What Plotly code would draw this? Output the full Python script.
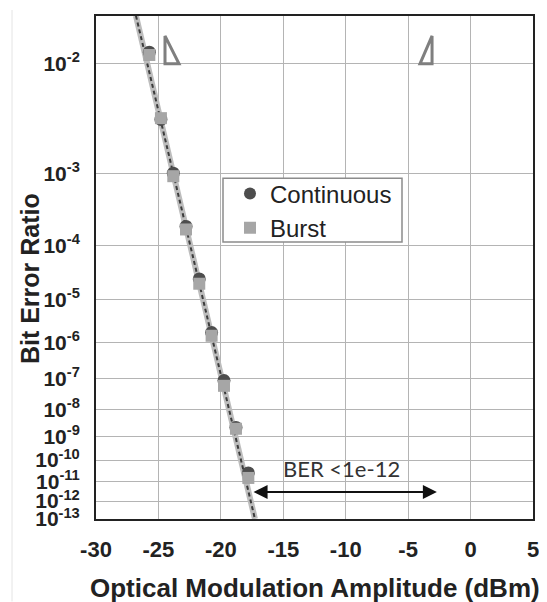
import math
import plotly.graph_objects as go

# ---- data ----
oma_burst = [-25.73, -24.80, -23.81, -22.79, -21.73, -20.74, -19.75, -18.79, -17.80]
ber_burst = [1.15e-2, 3.7e-3, 9.3e-4, 1.8e-4, 2.1e-5, 1.5e-6, 6.0e-8, 1.95e-9, 1.5e-11]

oma_cont = [-25.73, -24.80, -23.81, -22.79, -21.73, -20.74, -19.75, -18.79, -17.80]
ber_cont = [1.2e-2, 3.6e-3, 1.01e-3, 2.0e-4, 2.6e-5, 1.8e-6, 8.7e-8, 2.2e-9, 2.6e-11]

fit_oma = [-26.8, -17.27]
fit_ber = [2.0e-2, 1.0e-13]

ytick_exps = [-2, -3, -4, -5, -6, -7, -8, -9, -10, -11, -12, -13]
xtick_vals = [-30, -25, -20, -15, -10, -5, 0, 5]
xtick_text = ["-30", "-25", "-20", "-15", "-10", "-5", "0", "5"]

arrow_oma = [-17.5, -2.7]
arrow_ber = 3e-12
label_oma = -10.32
label_ber = 4e-11
label_text = "BER <1e-12"


def t(ber):
    """BER axis scale: log10(-log10(BER) - 0.5)."""
    return math.log10(-math.log10(ber) - 0.5)


FONT = "Arial, Liberation Sans, sans-serif"

fig = go.Figure()

# fitted line: light wide under-stroke + dark dashes
fig.add_trace(go.Scatter(x=fit_oma, y=[t(b) for b in fit_ber], mode="lines",
                         line=dict(color="#bdbdbd", width=6), showlegend=False,
                         hoverinfo="skip"))
fig.add_trace(go.Scatter(x=fit_oma, y=[t(b) for b in fit_ber], mode="lines",
                         line=dict(color="#3c3c3c", width=2, dash="4px,3px"),
                         showlegend=False, hoverinfo="skip"))

fig.add_trace(go.Scatter(x=oma_cont, y=[t(b) for b in ber_cont], mode="markers",
                         name="Continuous",
                         marker=dict(symbol="circle", size=13, color="#4d4d4d",
                                     line=dict(width=0))))
fig.add_trace(go.Scatter(x=oma_burst, y=[t(b) for b in ber_burst], mode="markers",
                         name="Burst",
                         marker=dict(symbol="square", size=12, color="#a6a6a6",
                                     line=dict(width=0))))

y_top = t(1e-2) - 48 / 496.0
y_bot = t(1e-13)

# page body has an 8px margin: shrink the figure so the plot lands where the reference has it
fig.update_layout(
    width=539, height=594,
    margin=dict(l=88, r=14, t=6, b=83),
    paper_bgcolor="white", plot_bgcolor="white",
    font=dict(family=FONT, color="#222222"),
    legend=dict(x=(230 - 96) / 437.0, y=1 - (170 - 14) / 505.0,
                xanchor="left", yanchor="top",
                bgcolor="rgba(0,0,0,0)", borderwidth=0,
                font=dict(family=FONT, size=24, color="#222222"),
                itemsizing="constant", tracegroupgap=0),
    xaxis=dict(range=[-30, 5], tickvals=xtick_vals, ticktext=xtick_text,
               tickfont=dict(family=FONT, size=22, weight="bold", color="#222222"),
               showgrid=True, gridcolor="#b4b4b4", gridwidth=1,
               showline=True, linecolor="#222222", linewidth=2, mirror=True,
               zeroline=False, ticks="", ticklabelstandoff=10),
    yaxis=dict(range=[y_bot, y_top],
               tickvals=[t(10.0 ** e) for e in ytick_exps],
               ticktext=["10<sup>%d</sup>" % e for e in ytick_exps],
               tickfont=dict(family=FONT, size=21, weight="bold", color="#222222"),
               showgrid=True, gridcolor="#b4b4b4", gridwidth=1,
               showline=True, linecolor="#222222", linewidth=2, mirror=True,
               zeroline=False, ticks="", ticklabelstandoff=10),
)

# legend frame
fig.add_shape(type="rect", xref="paper", yref="paper",
              x0=(223 - 96) / 437.0, x1=(402 - 96) / 437.0,
              y0=1 - (241 - 14) / 505.0, y1=1 - (177 - 14) / 505.0,
              line=dict(color="#8c8c8c", width=1.5), fillcolor="white", layer="above")

# axis titles
fig.add_annotation(text="<b>Optical Modulation Amplitude (dBm)</b>",
                   xref="paper", yref="paper", x=0.5, y=-0.1366,
                   xanchor="center", yanchor="middle", showarrow=False,
                   font=dict(family=FONT, size=26, color="#222222"))
fig.add_annotation(text="<b>Bit Error Ratio</b>", textangle=-90,
                   xref="paper", yref="paper", x=-0.151, y=0.477,
                   xanchor="center", yanchor="middle", showarrow=False,
                   font=dict(family=FONT, size=25, color="#222222"))

# double-headed arrow and its label
fig.add_annotation(x=arrow_oma[1], y=t(arrow_ber), ax=arrow_oma[0], ay=t(arrow_ber),
                   xref="x", yref="y", axref="x", ayref="y", text="",
                   showarrow=True, arrowside="end+start", arrowhead=2,
                   arrowsize=1.4, arrowwidth=2, arrowcolor="#111111",
                   standoff=0, startstandoff=0)
fig.add_annotation(x=label_oma, y=t(label_ber), xref="x", yref="y",
                   text=label_text, showarrow=False,
                   font=dict(family="Lato, Liberation Sans, sans-serif", size=22,
                             color="#333333"))

# decorative triangle glyphs near the top
fig.add_shape(type="path", xref="paper", yref="paper",
              path="M 0.1579 0.9604 L 0.1579 0.905 L 0.190 0.905 Z",
              line=dict(color="#7f7f7f", width=3), fillcolor="rgba(0,0,0,0)")
fig.add_shape(type="path", xref="paper", yref="paper",
              path="M 0.769 0.9604 L 0.769 0.905 L 0.7414 0.905 Z",
              line=dict(color="#7f7f7f", width=3), fillcolor="rgba(0,0,0,0)")

# faint page-edge line at the far left
fig.add_shape(type="line", xref="paper", yref="paper",
              x0=-0.1922, x1=-0.1922, y0=1.0119, y1=-0.164,
              line=dict(color="#e4e4e4", width=1))

fig.write_html("out.html")
